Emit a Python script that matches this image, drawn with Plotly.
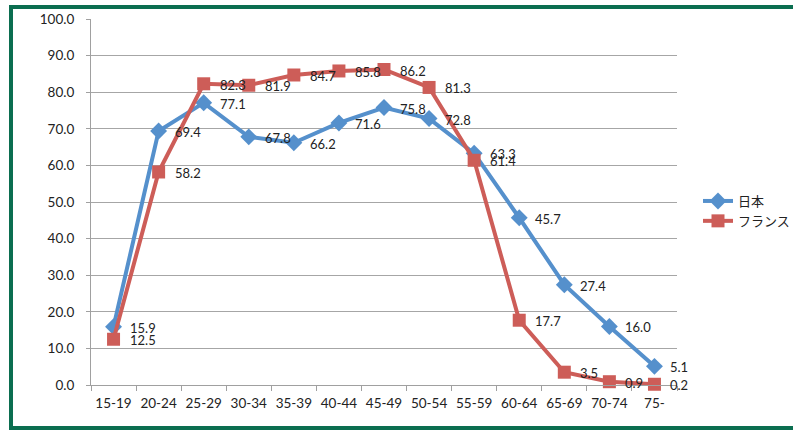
import plotly.graph_objects as go

categories = ["15-19", "20-24", "25-29", "30-34", "35-39", "40-44", "45-49",
              "50-54", "55-59", "60-64", "65-69", "70-74", "75-"]
japan = [15.9, 69.4, 77.1, 67.8, 66.2, 71.6, 75.8, 72.8, 63.3, 45.7, 27.4, 16.0, 5.1]
france = [12.5, 58.2, 82.3, 81.9, 84.7, 85.8, 86.2, 81.3, 61.4, 17.7, 3.5, 0.9, 0.2]
series_names = ["日本", "フランス"]
y_ticks = [0, 10, 20, 30, 40, 50, 60, 70, 80, 90, 100]

BLUE = "#5590CC"
RED = "#CD5D58"
GREEN = "#0B6E50"
FONT = "Lato, 'Noto Sans CJK JP', sans-serif"

fig = go.Figure()
for name, vals, color, sym in [(series_names[0], japan, BLUE, "diamond"),
                               (series_names[1], france, RED, "square")]:
    fig.add_trace(go.Scatter(
        x=categories, y=vals, name=name, mode="lines+markers",
        line=dict(color=color, width=4),
        marker=dict(symbol=sym, size=13, color=color),
        cliponaxis=False,
    ))
    for c, v in zip(categories, vals):
        fig.add_annotation(x=c, y=v, text=f"{v:.1f}", showarrow=False,
                           xanchor="left", yanchor="middle", xshift=14, yshift=-1,
                           font=dict(size=13, color="#222222"))

L, R, T, B = 91, 116, 19, 45
W, H = 793, 430
pw, ph = W - L - R, H - T - B

def px_x(p):
    return (p - L) / pw

def px_y(p):
    return (H - B - p) / ph

border = dict(color=GREEN, width=4)
fig.update_layout(
    width=W, height=H,
    margin=dict(l=L, r=R, t=T, b=B, autoexpand=False),
    paper_bgcolor="white", plot_bgcolor="white",
    font=dict(family=FONT, size=13, color="#222222"),
    showlegend=True,
    legend=dict(x=px_x(698), y=px_y(186), xanchor="left", yanchor="top",
                font=dict(size=13), tracegroupgap=10, bgcolor="rgba(0,0,0,0)"),
    xaxis=dict(
        type="category", range=[-0.5, 12.5], showgrid=False, automargin=False,
        showline=True, linecolor="#A0A0A0", linewidth=1, tickangle=0,
        ticks="outside", ticklen=5, tickcolor="#A0A0A0", tickson="boundaries",
        ticklabelstandoff=6,
        tickfont=dict(size=13.5, color="#222222"),
    ),
    yaxis=dict(
        range=[0, 100], tickvals=y_ticks, tickformat=".1f", automargin=False,
        showgrid=True, gridcolor="#A6A6A6", gridwidth=1,
        showline=True, linecolor="#A0A0A0", linewidth=1,
        ticks="outside", ticklen=4, tickcolor="#A0A0A0",
        ticklabelstandoff=9,
        tickfont=dict(size=13.5, color="#222222"), zeroline=False,
    ),
    shapes=[
        dict(type="line", xref="paper", yref="paper",
             x0=px_x(11), x1=px_x(11), y0=px_y(430), y1=px_y(5), line=border, layer="above"),
        dict(type="line", xref="paper", yref="paper",
             x0=px_x(9), x1=px_x(793), y0=px_y(7), y1=px_y(7), line=border, layer="above"),
        dict(type="line", xref="paper", yref="paper",
             x0=px_x(9), x1=px_x(793), y0=px_y(428), y1=px_y(428), line=border, layer="above"),
    ],
)

fig.write_html("out.html", config={"displayModeBar": False},
               post_script="document.body.style.margin='0';document.body.style.overflow='hidden';")
